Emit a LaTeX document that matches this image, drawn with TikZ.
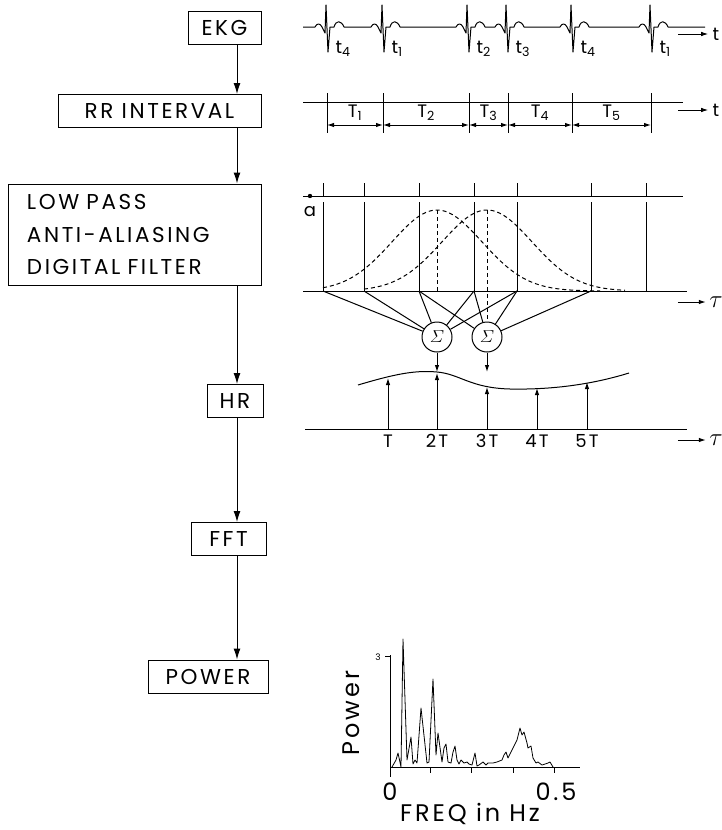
\documentclass[tikz,border=0pt]{standalone}
\usepackage{amsmath}
\usepackage{fontspec}
\setmainfont{Poppins}[LetterSpace=12]
\usetikzlibrary{arrows.meta,positioning}

\begin{document}
\begin{tikzpicture}[
  x=1pt, y=-1pt,
  >=Latex,
  line width=1pt,
  every node/.style={inner sep=0pt},
  blk/.style={draw, line width=1pt, minimum height=33pt, align=center, font=\fontsize{21.5}{26}\selectfont},
  flow/.style={-{Latex[length=11pt,width=7pt]}, line width=1pt},
  axarrow/.style={-{Latex[length=7pt,width=4.5pt]}},
  dbl/.style={{Latex[length=7pt,width=4.5pt]}-{Latex[length=7pt,width=4.5pt]}},
  lbl/.style={font=\fontsize{18}{20}\selectfont},
  taulbl/.style={font=\fontsize{23}{25}\selectfont},
  big/.style={font=\fontsize{24}{26}\selectfont},
  summer/.style={draw, circle, minimum size=30pt, font=\fontsize{17}{19}\selectfont},
  gauss/.style={dash pattern=on 4pt off 3pt}
]
\useasboundingbox (0,0) rectangle (722,830);

\node[blk, minimum width=73pt] (ekg) at (224.5,28) {EKG};
\node[blk, minimum width=203pt] (rr) at (159.5,111) {RR INTERVAL};
\node[blk, minimum width=253pt, minimum height=101pt, inner xsep=19pt, text width=215pt, align=left, font=\fontsize{21.5}{32.5}\selectfont] (filt) at (134.5,234.5) {LOW PASS\\ANTI-ALIASING\\DIGITAL FILTER};
\node[blk, minimum width=56pt] (hr) at (235,401) {HR};
\node[blk, minimum width=75pt] (fft) at (228.5,539) {FFT};
\node[blk, minimum width=120pt] (power) at (208,676.5) {POWER};
\coordinate (spine) at (237,0);

\draw[flow] (ekg.south -| spine) -- (rr.north -| spine);
\draw[flow] (rr.south -| spine) -- (filt.north -| spine);
\draw[flow] (filt.south -| spine) -- (hr.north -| spine);
\draw[flow] (hr.south -| spine) -- (fft.north -| spine);
\draw[flow] (fft.south -| spine) -- (power.north -| spine);

\draw[line join=round] (303,27) foreach \b in {327,383,468,507,572,651} {
  -- (\b-12,27) .. controls (\b-10,23) and (\b-7,23) .. (\b-5,27) -- (\b-2,33) -- (\b-1,5) -- (\b+1,52) -- (\b+3,27) -- (\b+7,27) .. controls (\b+9,20) and (\b+14,20) .. (\b+17,27)
} -- (705,27);
\foreach \b/\n in {327/4,383/1,468/2,507/3,572/4,651/1}
  \node[lbl, anchor=west] at (\b+8,49) {t\textsubscript{\n}};
\node[lbl] (tA) at (716,34) {t};
\draw[axarrow] ([xshift=-34pt]tA.west) -- ([xshift=-4pt]tA.west);

\draw (303,102) -- (683,102);
\foreach \x in {327,383,469,508,572,651}
  \draw (\x,93) -- (\x,133);
\foreach \a/\b/\n in {327/383/1,383/469/2,469/508/3,508/572/4,572/651/5} {
  \draw[dbl] (\a,125) -- (\b,125);
  \node[lbl] at ({(\a+\b)/2},113) {T\textsubscript{\n}};
}
\node[lbl] (tB) at (716,110) {t};
\draw[axarrow] ([xshift=-34pt]tB.west) -- ([xshift=-4pt]tB.west);

\draw (303,196) -- (683,196);
\fill (310,196) circle (2.2pt);
\node[lbl] at (310,212) {a};
\foreach \x in {323,364,419,474,517,591,646} {
  \draw (\x,183) -- (\x,196);
  \draw (\x,202) -- (\x,291);
}
\draw (303,291) -- (687,291);
\node[taulbl] (tauA) at (716,302) {$\tau$};
\draw[axarrow] ([xshift=-31pt]tauA.west) -- ([xshift=-3pt]tauA.west);

\draw[gauss] plot[domain=323:600, samples=80, smooth] (\x,{291-81*exp(-0.5*((\x-437)/45)*((\x-437)/45))});
\draw[gauss] plot[domain=364:625, samples=80, smooth] (\x,{291-81*exp(-0.5*((\x-487)/45)*((\x-487)/45))});

\node[summer] (sumA) at (437,337) {$\varSigma$};
\node[summer] (sumB) at (487,337) {$\varSigma$};
\draw[gauss] (437,210) -- (437,291);
\draw[gauss] (487,210) -- (sumB.north);
\foreach \x in {323,364,419,474,517}
  \draw (\x,291) -- (sumA);
\foreach \x in {419,474,517,591}
  \draw (\x,291) -- (sumB);

\coordinate (hrA) at (437,372);
\coordinate (hrB) at (487,372);
\draw[axarrow] (sumA.south) -- (hrA);
\draw[axarrow] (sumB.south) -- (hrB);

\draw (358,385) .. controls (395,374) and (415,370) .. (437,372) .. controls (460,374) and (470,388) .. (510,389) .. controls (560,390) and (600,382) .. (629,373);
\draw (305,429) -- (687,429);
\foreach \x/\h/\l in {388/378/T,437/373/2T,487/387/3T,537/388/4T,587/382/5T} {
  \draw[axarrow] (\x,429) -- (\x,\h);
  \node[lbl] at (\x,441) {\l};
}
\node[taulbl] (tauB) at (716,440) {$\tau$};
\draw[axarrow] ([xshift=-31pt]tauB.west) -- ([xshift=-3pt]tauB.west);

\draw (390,655) -- (390,777);
\draw (385,656) -- (390,656);
\node[font=\fontsize{9}{10}\selectfont] at (378,657) {3};
\draw (390,767) -- (580,767);
\foreach \x in {430,471,513,554}
  \draw (\x,767) -- (\x,773);
\draw[line width=0.8pt, line join=round] plot coordinates {
  (392,767) (396,760) (398,753) (401,767) (403,639) (407,760) (411,737) (413,764)
  (415,760) (417,763) (421,708) (427,763) (429,762) (433,679) (436,755) (438,733)
  (442,762) (444,748) (446,744) (448,762) (451,763) (453,752) (455,746) (457,760)
  (459,764) (461,760) (464,763) (467,762) (469,764) (472,765) (475,753) (477,766)
  (479,765) (483,762) (486,765) (488,763) (493,763) (497,762) (502,760) (504,755)
  (506,752) (508,758) (512,750) (517,740) (520,728) (522,735) (524,732) (527,743)
  (528,748) (531,746) (533,758) (536,763) (538,762) (542,765) (548,763) (550,762) (553,767)
};
\node[big, rotate=90] at (351,713) {Power};
\node[big] at (390,792) {0};
\node[big] at (556,792) {0.5};
\node[big] at (470,814) {FREQ in Hz};
\end{tikzpicture}
\end{document}
